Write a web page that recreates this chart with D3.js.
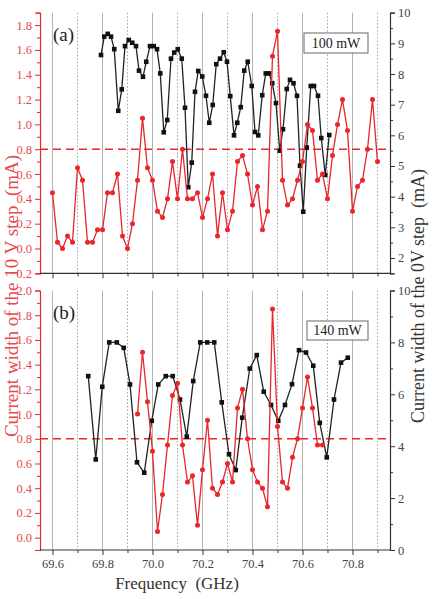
<!DOCTYPE html>
<html lang="en">
<head>
<meta charset="utf-8">
<title>Step width vs frequency</title>
<script src="https://cdn.jsdelivr.net/npm/d3@7"></script>
<style>
  body { margin: 0; background: #fff; }
  svg text { font-family: "Liberation Serif", "Times New Roman", serif; }
</style>
</head>
<body>
<script>
// ---- data ----
var redAFreq = [69.60,69.62,69.64,69.66,69.68,69.70,69.72,69.74,69.76,69.78,
  69.80,69.82,69.84,69.86,69.88,69.90,69.92,69.94,69.96,69.98,
  70.00,70.02,70.04,70.06,70.08,70.10,70.12,70.14,70.16,70.18,
  70.20,70.22,70.24,70.26,70.28,70.30,70.32,70.34,70.36,70.38,
  70.40,70.42,70.44,70.46,70.48,70.50,70.52,70.54,70.56,70.58,
  70.60,70.62,70.64,70.66,70.68,70.70,70.72,70.74,70.76,70.78,
  70.80,70.82,70.84,70.86,70.88,70.90];
var redAWidth = [0.45,0.05,0.00,0.10,0.05,0.65,0.55,0.05,0.05,0.15,
  0.15,0.45,0.45,0.60,0.10,0.00,0.20,0.55,1.05,0.65,
  0.55,0.30,0.25,0.40,0.70,0.40,0.80,0.40,0.40,0.45,
  0.25,0.40,0.60,0.10,0.45,0.15,0.30,0.70,0.75,0.60,
  0.35,0.50,0.15,0.30,1.55,1.75,0.55,0.35,0.40,0.55,
  0.70,1.00,0.95,0.55,0.60,0.40,0.75,1.00,1.20,0.95,
  0.30,0.50,0.55,0.80,1.20,0.70];

var blackAFreq = [69.794,69.807,69.821,69.834,69.847,69.863,69.877,69.890,69.905,69.919,
  69.934,69.946,69.962,69.975,69.990,70.005,70.018,70.031,70.045,70.059,
  70.074,70.087,70.101,70.117,70.130,70.143,70.157,70.170,70.183,70.199,
  70.214,70.227,70.241,70.255,70.270,70.285,70.298,70.311,70.326,70.339,
  70.353,70.367,70.381,70.397,70.410,70.423,70.439,70.453,70.466,70.479,
  70.494,70.509,70.522,70.537,70.550,70.564,70.578,70.590,70.603,70.617,
  70.633,70.646,70.662,70.675,70.691,70.707];
var blackAWidth = [8.62,9.22,9.31,9.22,8.81,6.80,7.50,8.91,9.11,9.02,
  8.91,8.11,7.91,8.40,8.91,8.91,8.81,8.02,6.10,6.50,
  8.50,8.70,8.81,8.50,6.90,4.31,5.11,7.42,8.10,7.92,
  7.29,6.41,6.99,8.32,8.50,8.71,8.40,7.28,6.00,6.41,
  6.92,8.11,8.40,7.61,6.11,6.00,7.31,8.02,8.02,7.70,
  7.05,5.50,6.20,7.51,7.81,7.70,7.29,5.01,3.51,5.60,
  7.61,7.61,7.29,5.91,4.71,6.01];

var redBFreq = [69.94,69.96,69.98,70.00,70.02,70.04,70.06,70.08,70.10,70.12,
  70.14,70.16,70.18,70.20,70.22,70.24,70.26,70.28,70.30,70.32,
  70.34,70.36,70.38,70.40,70.42,70.44,70.46,70.48,70.50,70.52,
  70.54,70.56,70.58,70.60,70.62,70.64,70.66,70.68];
var redBWidth = [1.00,1.50,1.10,0.70,0.05,0.35,0.75,1.15,1.25,0.75,
  0.45,0.50,0.10,0.55,0.95,0.40,0.35,0.45,0.60,0.45,
  1.05,1.20,0.80,0.55,0.45,0.40,0.25,1.85,0.90,0.45,
  0.40,0.65,0.80,1.05,1.30,1.05,0.75,0.75];

var blackBFreq = [69.743,69.773,69.799,69.827,69.857,69.885,69.910,69.938,69.967,69.997,
  70.023,70.053,70.081,70.110,70.137,70.163,70.191,70.219,70.247,70.277,
  70.306,70.333,70.359,70.389,70.417,70.445,70.474,70.503,70.530,70.558,
  70.586,70.614,70.643,70.669,70.697,70.726,70.754,70.781];
var blackBWidth = [6.70,3.49,6.29,8.00,8.00,7.79,6.38,3.38,2.98,4.98,
  6.38,6.70,6.70,5.80,4.37,6.51,8.00,8.00,8.00,5.69,
  3.69,3.08,5.10,6.99,7.51,6.10,5.59,4.98,5.59,6.39,
  7.70,7.61,7.10,4.90,3.57,5.80,7.22,7.41];

var xMajor = [69.6, 69.8, 70.0, 70.2, 70.4, 70.6, 70.8];
var xMinor = [69.7, 69.9, 70.1, 70.3, 70.5, 70.7, 70.9];
var threshold = 0.8;
var panelLabels = ["(a)", "(b)"];
var powerLabels = ["100 mW", "140 mW"];

// ---- layout ----
var w = 435, h = 599;
var red = "#e8262b", redText = "#e64a4e", dark = "#222";

var svg = d3.select("body").append("svg")
  .attr("width", w).attr("height", h);

var x = d3.scaleLinear().domain([69.55, 70.95]).range([40, 390]);

var panels = [
  { top: 12.7, bottom: 273.3, left: [-0.2, 1.9], right: [1.5, 10],
    leftTicks: d3.range(-0.2, 1.81, 0.2), leftMinor: d3.range(-0.1, 1.91, 0.2),
    rightTicks: d3.range(2, 10.1, 1), rightMinor: d3.range(1.5, 10, 1),
    red: [redAFreq, redAWidth], black: [blackAFreq, blackAWidth], xLabels: false,
    box: [304, 33, 64, 20] },
  { top: 290.5, bottom: 550, left: [-0.1, 2.0], right: [0, 10],
    leftTicks: d3.range(0, 2.01, 0.2), leftMinor: d3.range(-0.1, 2.0, 0.2),
    rightTicks: d3.range(0, 10.1, 2), rightMinor: d3.range(1, 10, 2),
    red: [redBFreq, redBWidth], black: [blackBFreq, blackBWidth], xLabels: true,
    box: [307, 321, 61, 19] }
];

panels.forEach(function(p, pi) {
  var yl = d3.scaleLinear().domain(p.left).range([p.bottom, p.top]);
  var yr = d3.scaleLinear().domain(p.right).range([p.bottom, p.top]);
  var g = svg.append("g");

  // vertical grid
  g.selectAll(".gmaj").data(xMajor).enter().append("line")
    .attr("x1", function(d) { return x(d); }).attr("x2", function(d) { return x(d); })
    .attr("y1", p.top).attr("y2", p.bottom)
    .attr("stroke", "#b4b4b4").attr("stroke-width", 1);
  g.selectAll(".gmin").data(xMinor).enter().append("line")
    .attr("x1", function(d) { return x(d); }).attr("x2", function(d) { return x(d); })
    .attr("y1", p.top).attr("y2", p.bottom)
    .attr("stroke", "#9a9a9a").attr("stroke-width", 0.9)
    .attr("stroke-dasharray", "1.5,2");

  // threshold
  g.append("line")
    .attr("x1", x.range()[0]).attr("x2", x.range()[1])
    .attr("y1", yl(threshold)).attr("y2", yl(threshold))
    .attr("stroke", red).attr("stroke-width", 1.4)
    .attr("stroke-dasharray", "8,5");

  // black series (right axis)
  var bf = p.black[0], bv = p.black[1];
  var bData = bf.map(function(f, i) { return [f, bv[i]]; });
  g.append("path").datum(bData)
    .attr("fill", "none").attr("stroke", dark).attr("stroke-width", 1.3)
    .attr("d", d3.line().x(function(d) { return x(d[0]); }).y(function(d) { return yr(d[1]); }));
  g.selectAll(".sq").data(bData).enter().append("rect")
    .attr("x", function(d) { return x(d[0]) - 2.3; })
    .attr("y", function(d) { return yr(d[1]) - 2.3; })
    .attr("width", 4.6).attr("height", 4.6).attr("fill", "#111");

  // red series (left axis)
  var rf = p.red[0], rv = p.red[1];
  var rData = rf.map(function(f, i) { return [f, rv[i]]; });
  g.append("path").datum(rData)
    .attr("fill", "none").attr("stroke", red).attr("stroke-width", 1.3)
    .attr("d", d3.line().x(function(d) { return x(d[0]); }).y(function(d) { return yl(d[1]); }));
  g.selectAll(".ci").data(rData).enter().append("circle")
    .attr("cx", function(d) { return x(d[0]); })
    .attr("cy", function(d) { return yl(d[1]); })
    .attr("r", 2.5).attr("fill", red);

  // left axis
  var la = g.append("g").attr("transform", "translate(" + x.range()[0] + ",0)")
    .call(d3.axisLeft(yl).tickValues(p.leftTicks).tickSize(5).tickPadding(3)
      .tickFormat(d3.format(".1f")));
  la.select(".domain").attr("stroke", red).attr("stroke-width", 1.2);
  la.selectAll(".tick line").attr("stroke", red);
  la.selectAll(".tick text").attr("fill", redText).attr("font-size", "12.5px")
    .attr("font-family", "Liberation Serif, serif");
  var lm = g.append("g").attr("transform", "translate(" + x.range()[0] + ",0)")
    .call(d3.axisLeft(yl).tickValues(p.leftMinor).tickSize(3).tickFormat(""));
  lm.select(".domain").remove();
  lm.selectAll(".tick line").attr("stroke", red);

  // right axis
  var ra = g.append("g").attr("transform", "translate(" + x.range()[1] + ",0)")
    .call(d3.axisRight(yr).tickValues(p.rightTicks).tickSize(5).tickPadding(3)
      .tickFormat(d3.format("d")));
  ra.select(".domain").attr("stroke", "#333").attr("stroke-width", 1.2);
  ra.selectAll(".tick line").attr("stroke", "#333");
  ra.selectAll(".tick text").attr("fill", "#444").attr("font-size", "12.5px")
    .attr("font-family", "Liberation Serif, serif");
  var rm = g.append("g").attr("transform", "translate(" + x.range()[1] + ",0)")
    .call(d3.axisRight(yr).tickValues(p.rightMinor).tickSize(3).tickFormat(""));
  rm.select(".domain").remove();
  rm.selectAll(".tick line").attr("stroke", "#333");

  // bottom axis
  var xa = g.append("g").attr("transform", "translate(0," + p.bottom + ")")
    .call(d3.axisBottom(x).tickValues(xMajor).tickSize(5).tickPadding(4)
      .tickFormat(p.xLabels ? d3.format(".1f") : ""));
  xa.select(".domain").attr("stroke", "#333").attr("stroke-width", 1.2)
    .attr("d", "M" + x.range()[0] + ",0H" + x.range()[1]);
  xa.selectAll(".tick line").attr("stroke", "#333");
  xa.selectAll(".tick text").attr("fill", "#444").attr("font-size", "12.5px")
    .attr("font-family", "Liberation Serif, serif");
  var xm = g.append("g").attr("transform", "translate(0," + p.bottom + ")")
    .call(d3.axisBottom(x).tickValues(xMinor).tickSize(3).tickFormat(""));
  xm.select(".domain").remove();
  xm.selectAll(".tick line").attr("stroke", "#333");

  // panel tag
  g.append("text").attr("x", 53).attr("y", p.top + 28)
    .attr("font-size", "19px").attr("fill", "#222").text(panelLabels[pi]);

  // power box
  var b = p.box;
  g.append("rect").attr("x", b[0]).attr("y", b[1]).attr("width", b[2]).attr("height", b[3])
    .attr("fill", "#fff").attr("stroke", "#666").attr("stroke-width", 1);
  g.append("text").attr("x", b[0] + b[2] / 2).attr("y", b[1] + b[3] / 2 + 4.5)
    .attr("text-anchor", "middle").attr("font-size", "14px").attr("fill", "#222")
    .text(powerLabels[pi]);
});

// axis titles
svg.append("text")
  .attr("transform", "translate(18,296) rotate(-90)")
  .attr("text-anchor", "middle").attr("font-size", "19px").attr("fill", redText)
  .style("white-space", "pre")
  .text("Current width of the 10 V step  (mA)");

svg.append("text")
  .attr("transform", "translate(424,296) rotate(-90)")
  .attr("text-anchor", "middle").attr("font-size", "18px").attr("fill", "#333")
  .style("white-space", "pre")
  .text("Current width of the 0V step  (mA)");

svg.append("text")
  .attr("x", 177).attr("y", 589)
  .attr("text-anchor", "middle").attr("font-size", "17px").attr("fill", "#333")
  .style("white-space", "pre")
  .text("Frequency  (GHz)");
</script>
</body>
</html>
